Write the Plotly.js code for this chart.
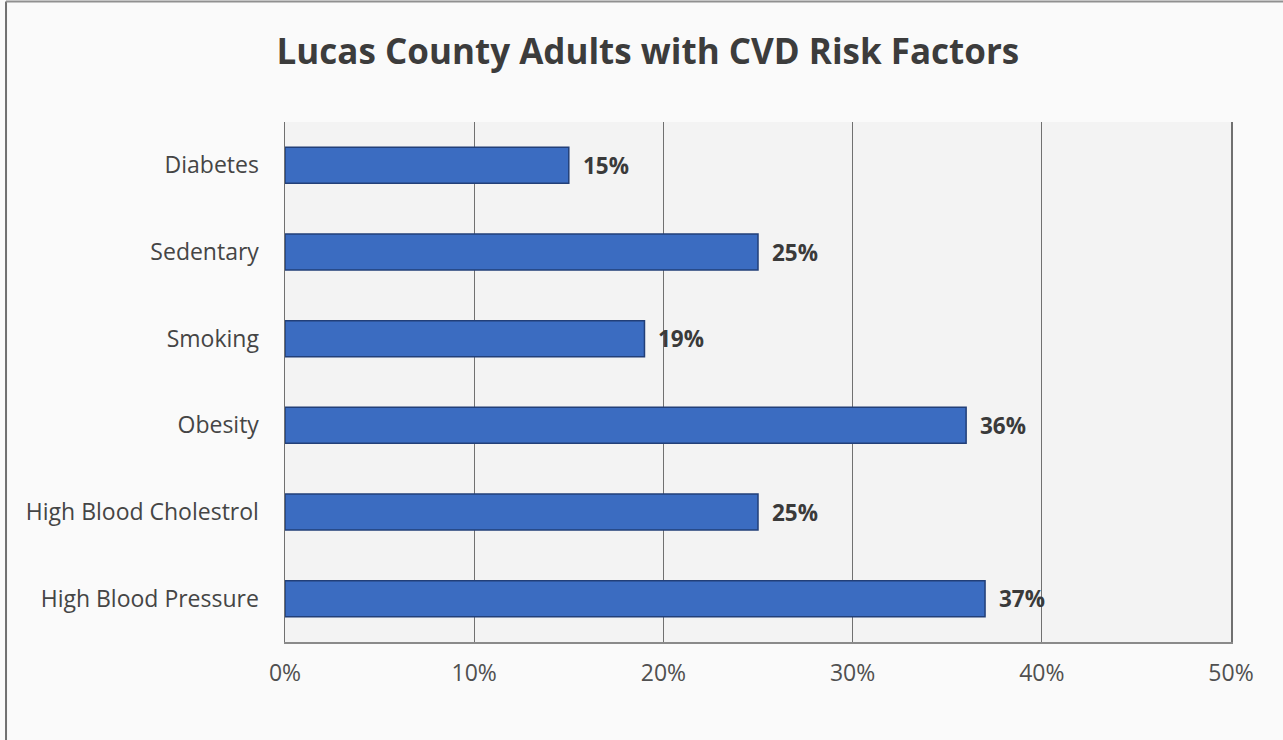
<!DOCTYPE html>
<html>
<head>
<meta charset="utf-8">
<script src="https://cdn.plot.ly/plotly-3.0.1.min.js"></script>
<style>html,body{margin:0;padding:0;background:#fafafa;}#chart{width:1283px;height:740px;}</style>
</head>
<body>
<div id="chart"></div>
<script>
const categories = ["High Blood Pressure", "High Blood Cholestrol", "Obesity", "Smoking", "Sedentary", "Diabetes"];
const values = [0.37, 0.25, 0.36, 0.19, 0.25, 0.15];
const tickVals = [0, 0.1, 0.2, 0.3, 0.4, 0.5];
const tickLabels = ["0%", "10%", "20%", "30%", "40%", "50%"];
const titleText = "Lucas County Adults with CVD Risk Factors";

const font = "'Open Sans', 'DejaVu Sans', sans-serif";

const trace = {
  type: "bar",
  orientation: "h",
  y: categories,
  x: values,
  marker: { color: "#3b6cc1", line: { color: "#223f78", width: 1.5 } },
  hoverinfo: "skip"
};

const annotations = categories.map((c, i) => ({
  x: values[i], y: c, xref: "x", yref: "y",
  text: Math.round(values[i] * 100) + "%",
  showarrow: false, xanchor: "left", xshift: 12,
  font: { family: font, size: 22.5, color: "#3a3a3a", weight: "bold" }
}));

const layout = {
  width: 1283, height: 740,
  margin: { l: 285, r: 52, t: 122, b: 98 },
  paper_bgcolor: "#fafafa",
  plot_bgcolor: "#f3f3f3",
  title: {
    text: "<b>" + titleText + "</b>",
    x: 0.505, xanchor: "center", y: 0.93, yanchor: "middle",
    font: { family: font, size: 35, color: "#3c3c3c" }
  },
  bargap: 0.585,
  showlegend: false,
  xaxis: {
    range: [0, 0.5],
    tickvals: tickVals, ticktext: tickLabels,
    showgrid: true, gridcolor: "#707070", gridwidth: 1,
    showline: true, linecolor: "#8a8a8a", linewidth: 1.5,
    zeroline: false, ticks: "",
    ticklabelstandoff: 10,
    tickfont: { family: font, size: 23, color: "#505050" },
    fixedrange: true
  },
  yaxis: {
    showgrid: false, zeroline: false,
    showline: true, mirror: true, linecolor: "#707070", linewidth: 1.5,
    ticks: "", ticklabelstandoff: 20,
    tickfont: { family: font, size: 23, color: "#454545" },
    fixedrange: true
  },
  annotations: annotations,
  shapes: [
    { type: "line", xref: "paper", yref: "paper", x0: -0.2949, x1: -0.2949, y0: -0.3, y1: 1.2317, line: { color: "#707070", width: 2 } },
    { type: "line", xref: "paper", yref: "paper", x0: -0.2949, x1: 1.1, y0: 1.2317, y1: 1.2317, line: { color: "#909090", width: 2 } }
  ]
};

Plotly.newPlot("chart", [trace], layout, { displayModeBar: false, staticPlot: true });
</script>
</body>
</html>
